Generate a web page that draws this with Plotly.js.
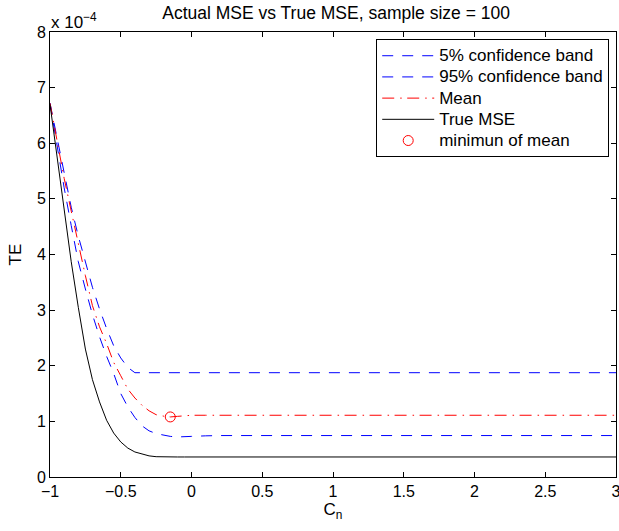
<!DOCTYPE html>
<html>
<head>
<meta charset="utf-8">
<script src="https://cdn.plot.ly/plotly-3.0.1.min.js"></script>
<style>
  html, body { margin: 0; padding: 0; background: #fff; }
  #chart { width: 619px; height: 531px; }
</style>
</head>
<body>
<div id="chart"></div>
<script>
// Shrinkage constant C_n (x axis)
const cn = [-1, -0.95, -0.9, -0.85, -0.8, -0.75, -0.7, -0.65, -0.6, -0.55, -0.5,
            -0.45, -0.4, -0.35, -0.3, -0.25, -0.2, -0.15, -0.1, -0.05, 0, 0.1, 0.2, 3];

// Estimated error curves, in units of 1e-4
const band5 = [6.72, 5.95, 5.20, 4.52, 3.87, 3.38, 2.92, 2.52, 2.17, 1.86, 1.50,
               1.26, 1.07, 0.92, 0.83, 0.78, 0.75, 0.73, 0.72, 0.72, 0.73, 0.74, 0.745, 0.745];
const band95 = [6.72, 6.10, 5.45, 4.85, 4.33, 3.85, 3.41, 3.02, 2.67, 2.36, 2.14,
                1.97, 1.875, 1.875, 1.875, 1.875, 1.875, 1.875, 1.875, 1.875, 1.875, 1.875, 1.875, 1.875];
const meanTE = [6.72, 6.05, 5.37, 4.78, 4.18, 3.62, 3.08, 2.70, 2.40, 2.06, 1.82,
                1.58, 1.42, 1.29, 1.19, 1.12, 1.095, 1.08, 1.09, 1.10, 1.11, 1.11, 1.11, 1.11];
const trueMSE = [6.70, 5.75, 4.75, 3.87, 3.05, 2.30, 1.75, 1.35, 1.02, 0.79, 0.63,
                 0.52, 0.45, 0.41, 0.38, 0.365, 0.36, 0.36, 0.36, 0.36, 0.36, 0.36, 0.36, 0.36];

const yTicks = [0, 1, 2, 3, 4, 5, 6, 7, 8];
const xTicks = [-1, -0.5, 0, 0.5, 1, 1.5, 2, 2.5, 3];
const seriesNames = ['5% confidence band', '95% confidence band', 'Mean', 'True MSE', 'minimun of mean'];

const SCALE = 1e-4;
const toTE = a => a.map(v => v * SCALE);

// Location of the smallest mean error
let iMin = 0;
meanTE.forEach((v, i) => { if (v < meanTE[iMin]) iMin = i; });

const FONT = 'Liberation Sans, Arial, Helvetica, sans-serif';
// legend rows keep a compact pitch while the label text is drawn larger
const legendLabel = s => '<span style="font-size:17px">' + s + '</span>';

const traces = [
  { x: cn, y: toTE(band5), name: legendLabel(seriesNames[0]), mode: 'lines',
    line: { color: '#0000ff', width: 1, dash: '11px,9px' } },
  { x: cn, y: toTE(band95), name: legendLabel(seriesNames[1]), mode: 'lines',
    line: { color: '#0000ff', width: 1, dash: '11px,9px' } },
  { x: cn, y: toTE(meanTE), name: legendLabel(seriesNames[2]), mode: 'lines',
    line: { color: '#ff0000', width: 1, dash: '12px,6px,1.5px,5.5px' } },
  { x: cn, y: toTE(trueMSE), name: legendLabel(seriesNames[3]), mode: 'lines',
    line: { color: '#000000', width: 1 } },
  { x: [cn[iMin]], y: [meanTE[iMin] * SCALE], name: legendLabel(seriesNames[4]), mode: 'markers',
    marker: { symbol: 'circle-open', size: 10, color: '#ff0000', line: { width: 1, color: '#ff0000' } } }
];

const axisCommon = {
  showline: true, linecolor: '#000', linewidth: 1, mirror: 'ticks',
  ticks: 'inside', ticklen: 5, tickwidth: 1, tickcolor: '#000',
  showgrid: false, zeroline: false, ticklabeloverflow: 'allow',
  tickfont: { family: FONT, size: 16, color: '#000' }
};

const layout = {
  width: 619, height: 531,
  margin: { l: 50, r: 3, t: 32, b: 54 },
  paper_bgcolor: '#fff', plot_bgcolor: '#fff',
  font: { family: FONT, size: 16, color: '#000' },
  showlegend: true,
  title: {
    text: 'Actual MSE vs True MSE, sample size = 100',
    font: { family: FONT, size: 17.5, color: '#000' },
    x: 0.543, xanchor: 'center', y: 0.975, yanchor: 'middle', yref: 'container'
  },
  xaxis: Object.assign({}, axisCommon, {
    range: [-1, 3], tickvals: xTicks,
    title: { text: 'C<sub>n</sub>', font: { family: FONT, size: 17, color: '#000' }, standoff: 3 }
  }),
  yaxis: Object.assign({}, axisCommon, {
    range: [0, 8 * SCALE], tickvals: yTicks.map(v => v * SCALE), ticktext: yTicks.map(String),
    title: { text: 'TE', font: { family: FONT, size: 17, color: '#000' }, standoff: 10 }
  }),
  legend: {
    x: 0.988, xanchor: 'right', y: 0.984, yanchor: 'top',
    bgcolor: '#fff', bordercolor: '#000', borderwidth: 1,
    font: { family: FONT, size: 14, color: '#000' },
    itemwidth: 52, tracegroupgap: 0
  },
  annotations: [{
    xref: 'paper', yref: 'paper', x: 0, y: 1, xanchor: 'left', yanchor: 'bottom',
    xshift: -1, yshift: -2, showarrow: false,
    text: 'x 10<sup>−4</sup>', font: { family: FONT, size: 17, color: '#000' }
  }]
};

Plotly.newPlot('chart', traces, layout, { displayModeBar: false, staticPlot: true });
</script>
</body>
</html>
